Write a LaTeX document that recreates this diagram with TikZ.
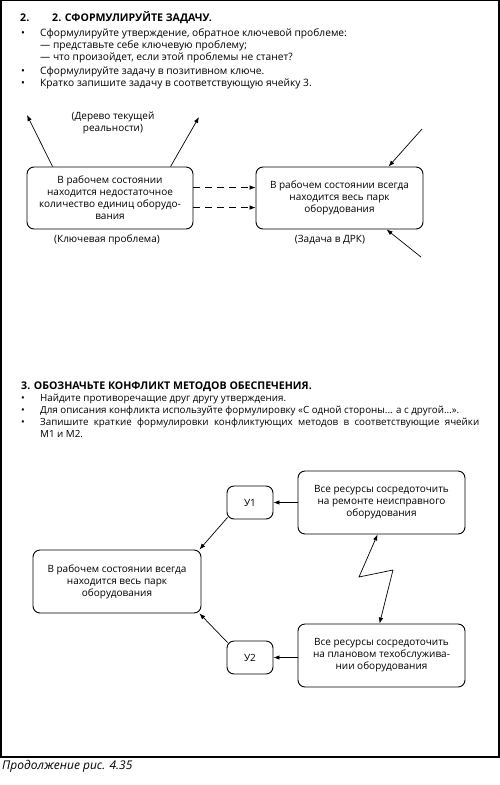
\documentclass[tikz,border=0pt]{standalone}
\usepackage{fontspec}
\setmainfont{Open Sans}
\usetikzlibrary{arrows.meta,calc}
\begin{document}
\begin{tikzpicture}[x=1pt,y=-1pt,
  txt/.style={anchor=base west,inner sep=0pt,font=\fontsize{10.2}{12}\selectfont},
  stxt/.style={anchor=base west,inner sep=0pt,font=\fontsize{9.8}{12}\selectfont},
  btxt/.style={anchor=base west,inner sep=0pt,font=\fontsize{10.6}{12}\selectfont\bfseries},
  lbl/.style={inner sep=0pt,align=center,font=\fontsize{10}{12}\selectfont},
  box/.style={draw,line width=0.9pt,rounded corners=7pt,align=center,inner sep=2pt,
    font=\fontsize{10}{12}\selectfont},
  arr/.style={line width=0.7pt,-{Latex[length=6pt,width=4.5pt]}},
  darr/.style={line width=0.7pt,dash pattern=on 7pt off 5pt,-{Latex[length=6pt,width=4.5pt]}},
  zarr/.style={line width=0.7pt,{Latex[length=6pt,width=4.5pt]}-{Latex[length=6pt,width=4.5pt]}}]
\useasboundingbox (0,0) rectangle (500,785);
\draw[line width=1.3pt] (1,0.5) rectangle (499,757);

% section 2 text
\node[btxt] (h2a) at (20,21) {2.};
\node[btxt] (h2b) at (52,21) {2. СФОРМУЛИРУЙТЕ ЗАДАЧУ.};
\node[txt] (u1) at (21,36) {•};
\node[txt] (l1) at (40,36) {Сформулируйте утверждение, обратное ключевой проблеме:};
\node[txt] (l2) at (40,48) {— представьте себе ключевую проблему;};
\node[txt] (l3) at (40,60) {— что произойдет, если этой проблемы не станет?};
\node[txt] (u2) at (21,74) {•};
\node[txt] (l4) at (40,74) {Сформулируйте задачу в позитивном ключе.};
\node[txt] (u3) at (21,86) {•};
\node[txt] (l5) at (40,86) {Кратко запишите задачу в соответствующую ячейку 3.};

% top diagram
\node[box,minimum width=166pt,minimum height=62pt] (kp) at (110,198)
  {В рабочем состоянии\\находится недостаточное\\количество единиц оборудо-\\вания};
\node[box,minimum width=167pt,minimum height=62pt] (zd) at (339.5,198)
  {В рабочем состоянии всегда\\находится весь парк\\оборудования};
\node[lbl] (kpl) at (107,240) {(Ключевая проблема)};
\node[lbl] (zdl) at (330,240) {(Задача в ДРК)};
\node[lbl] (drl) at (113,122.5) {(Дерево текущей\\реальности)};
\coordinate (a1) at (27,115);
\coordinate (a2) at (199,117);
\coordinate (a3) at (422,129);
\coordinate (a4) at (421,257);
\draw[arr] ($(kp.north west)+(26,0)$) -- (a1);
\draw[arr] ($(kp.north west)+(144,0)$) -- (a2);
\draw[arr] (a3) -- ($(zd.north west)+(133,0)$);
\draw[arr] (a4) -- ($(zd.south west)+(131,0)$);
\draw[darr] ($(kp.north east)+(0,21)$) -- ($(zd.north west)+(0,21)$);
\draw[darr] ($(kp.north east)+(0,41)$) -- ($(zd.north west)+(0,41)$);

% section 3 text
\node[btxt] (h3) at (21,389) {3. ОБОЗНАЧЬТЕ КОНФЛИКТ МЕТОДОВ ОБЕСПЕЧЕНИЯ.};
\node[stxt] (v1) at (21,401) {•};
\node[stxt] (m1l) at (40,401) {Найдите противоречащие друг другу утверждения.};
\node[stxt] (v2) at (21,413) {•};
\node[stxt] (m2l) at (40,413) {Для описания конфликта используйте формулировку «С одной стороны... а с другой...».};
\node[stxt] (v3) at (21,425) {•};
\node[stxt] (m3l) at (40,425) {\makebox[439pt][s]{Запишите краткие формулировки конфликтующих методов в соответствующие ячейки}};
\node[stxt] (m4l) at (40,437) {М1 и М2.};

% bottom diagram
\node[box,minimum width=168pt,minimum height=63pt] (goal) at (117,581.5)
  {В рабочем состоянии всегда\\находится весь парк\\оборудования};
\node[box,minimum width=46pt,minimum height=33pt] (y1) at (250,502.5) {У1};
\node[box,minimum width=46pt,minimum height=33pt] (y2) at (250,657.5) {У2};
\node[box,minimum width=167pt,minimum height=63pt] (mt) at (381.5,502.5)
  {Все ресурсы сосредоточить\\на ремонте неисправного\\оборудования};
\node[box,minimum width=167pt,minimum height=63pt] (mb) at (381.5,655.5)
  {Все ресурсы сосредоточить\\на плановом техобслужива-\\нии оборудования};
\draw[arr] (mt.west |- y1) -- (y1.east);
\draw[arr] (mb.west |- y2.east) -- (y2.east);
\draw[arr] ($(y1.south west)+(1,-2)$) -- ($(goal.north east)+(-2,0)$);
\draw[arr] ($(y2.north west)+(1,2)$) -- ($(goal.south east)+(-2,0)$);
\coordinate (z1) at (359,577);
\coordinate (z2) at (393,570);
\draw[zarr] ($(mt.south west)+(80,0)$) -- (z1) -- (z2) -- ($(mb.north west)+(82,0)$);

% caption
\node[anchor=base west,inner sep=0pt,font=\fontsize{12}{14}\selectfont\itshape] (cap) at (2,769) {Продолжение рис. 4.35};
\end{tikzpicture}
\end{document}
